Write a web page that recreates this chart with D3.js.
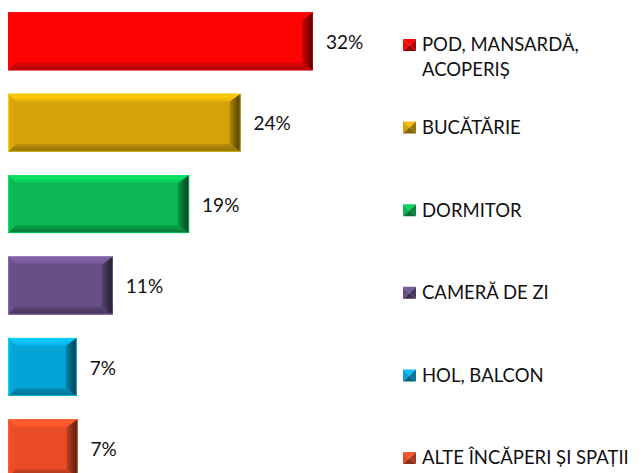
<!DOCTYPE html>
<html>
<head>
<meta charset="utf-8">
<script src="https://cdn.jsdelivr.net/npm/d3@7"></script>
<style>
  html, body { margin: 0; padding: 0; background: #fff; }
  svg { display: block; font-family: Lato, Carlito, Calibri, sans-serif; }
</style>
</head>
<body>
<svg id="chart" width="642" height="473"></svg>
<script>
// categories (top to bottom), values in %, colours
const categories = ['POD, MANSARDĂ, ACOPERIȘ', 'BUCĂTĂRIE', 'DORMITOR', 'CAMERĂ DE ZI', 'HOL, BALCON', 'ALTE ÎNCĂPERI ȘI SPAȚII'];
const legendLines = [['POD, MANSARDĂ,', 'ACOPERIȘ'], ['BUCĂTĂRIE'], ['DORMITOR'], ['CAMERĂ DE ZI'], ['HOL, BALCON'], ['ALTE ÎNCĂPERI ȘI SPAȚII']];
const values = [32, 24.4, 19, 11, 7.2, 7.3];
const colors = ['#ff0303', '#d6a30a', '#0ab753', '#684f86', '#05a4d7', '#e94b26'];

const data = categories.map((c, i) => ({cat: c, value: values[i], color: colors[i], lines: legendLines[i]}));

const svg = d3.select('#chart');
const defs = svg.append('defs');

const x = d3.scaleLinear().domain([0, d3.max(values)]).range([8, 313]);
const y = d3.scaleBand().domain(categories).range([12.3, 477.3]).paddingInner(0.2875).paddingOuter(0);
const ly = d3.scalePoint().domain(categories).range([45, 458]);

const b = 8; // bevel width

// gradients per bar colour
data.forEach((d, i) => {
  const c = d3.color(d.color);
  const mk = (id, x1, y1, x2, y2, stops) => {
    const g = defs.append('linearGradient').attr('id', id)
      .attr('x1', x1).attr('y1', y1).attr('x2', x2).attr('y2', y2);
    stops.forEach(s => g.append('stop').attr('offset', s[0]).attr('stop-color', s[1]));
  };
  mk('top' + i, 0, 0, 0, 1, [[0, c.brighter(0.3)], [0.35, c.brighter(0.6)], [1, c.brighter(0.15)]]);
  mk('bot' + i, 0, 0, 0, 1, [[0, c.darker(0.3)], [1, c.darker(1.2)]]);
  mk('rgt' + i, 0, 0, 1, 0, [[0, c.darker(0.5)], [1, c.darker(3)]]);
  mk('lft' + i, 0, 0, 1, 0, [[0, c.brighter(0.15)], [1, c]]);
});

const bars = svg.append('g').selectAll('g').data(data).enter().append('g');

bars.each(function(d, i) {
  const g = d3.select(this);
  const x0 = x(0), x1 = x(d.value), y0 = y(d.cat), y1 = y0 + y.bandwidth();
  g.append('rect').attr('x', x0).attr('y', y0).attr('width', x1 - x0).attr('height', y1 - y0).attr('fill', d.color);
  const poly = (pts, fill) => g.append('polygon').attr('points', pts.map(p => p.join(',')).join(' ')).attr('fill', fill);
  poly([[x0, y0], [x1, y0], [x1 - b, y0 + b], [x0 + b, y0 + b]], `url(#top${i})`);
  poly([[x0, y1], [x1, y1], [x1 - b, y1 - b], [x0 + b, y1 - b]], `url(#bot${i})`);
  poly([[x0, y0], [x0 + b, y0 + b], [x0 + b, y1 - b], [x0, y1]], `url(#lft${i})`);
  poly([[x1, y0], [x1 - b - 3, y0 + b], [x1 - b - 3, y1 - b], [x1, y1]], `url(#rgt${i})`);
  g.append('rect').attr('x', x0 + 0.5).attr('y', y0 + 0.5).attr('width', x1 - x0 - 1).attr('height', y1 - y0 - 1)
    .attr('fill', 'none').attr('stroke', d3.color(d.color).brighter(1.2)).attr('stroke-opacity', 0.5);
  g.append('text').attr('x', x1 + 13).attr('y', (y0 + y1) / 2 + 1).attr('dy', '0.35em')
    .style('font-size', '19px').style('fill', '#111').text(Math.round(d.value) + '%');
});

// legend
const legend = svg.append('g').selectAll('g').data(data).enter().append('g')
  .attr('transform', d => `translate(403,${ly(d.cat)})`);

legend.each(function(d) {
  const g = d3.select(this);
  const c = d3.color(d.color);
  const s = 13, h = 12, cx = s / 2, cy = 0;
  const t = -h / 2, bt = h / 2;
  const tri = (pts, fill) => g.append('polygon').attr('points', pts.map(p => p.join(',')).join(' ')).attr('fill', fill);
  tri([[0, t], [s, t], [cx, cy]], c.brighter(0.4));
  tri([[0, t], [0, bt], [cx, cy]], c);
  tri([[s, t], [s, bt], [cx, cy]], c.darker(0.9));
  tri([[0, bt], [s, bt], [cx, cy]], c.darker(1.4));
  const txt = g.append('text').attr('x', 19).attr('y', 0).style('font-size', '18.5px').style('fill', '#111');
  d.lines.forEach((l, k) => txt.append('tspan').attr('x', 19).attr('dy', k === 0 ? '0.35em' : '25px').text(l));
});
</script>
</body>
</html>
